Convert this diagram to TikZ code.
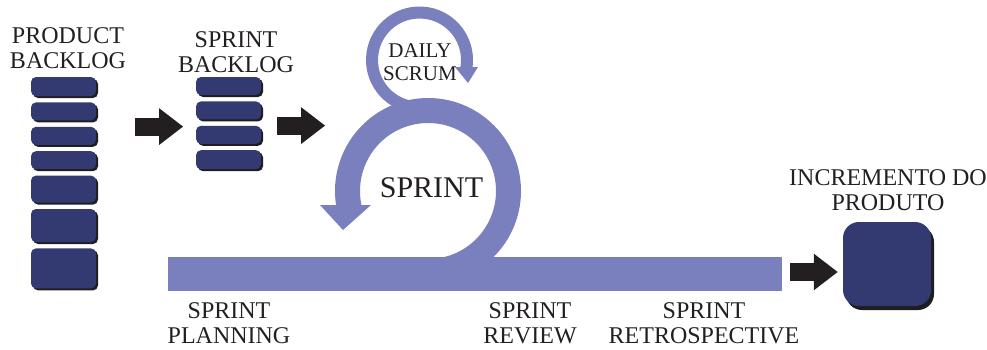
\documentclass[tikz,border=0pt]{standalone}
\usepackage{fontspec}
\setmainfont{Liberation Serif}
\usepackage{tikz}
\usetikzlibrary{arrows.meta, positioning, calc, shadows}
\definecolor{scrumnavy}{HTML}{333A72}
\definecolor{scrumlilac}{HTML}{7A80BE}
\definecolor{scrumshadow}{HTML}{1E1E1E}
\definecolor{scrumink}{HTML}{231F20}

\begin{document}
\begin{tikzpicture}[x=1pt, y=1pt, node distance=6pt,
    card/.style={fill=scrumnavy, rounded corners=5pt, minimum width=65pt, inner sep=0pt,
        drop shadow={fill=scrumshadow, opacity=1, shadow xshift=2pt, shadow yshift=-2pt}},
    lbl/.style={text=scrumink, font=\fontsize{24}{25}\selectfont, align=center, anchor=base, inner sep=0pt},
    flow/.style={line width=18pt, draw=scrumink, -{Triangle[length=24pt, width=35pt]}}]
    \useasboundingbox (0,0) rectangle (987,349);

    % Product backlog stack
    \node[card, minimum height=19pt] (pb1) at (63.5,262.5) {};
    \node[card, minimum height=18pt, below=of pb1] (pb2) {};
    \node[card, minimum height=18pt, below=of pb2] (pb3) {};
    \node[card, minimum height=18pt, below=of pb3] (pb4) {};
    \node[card, minimum height=27pt, below=of pb4] (pb5) {};
    \node[card, minimum height=33pt, below=of pb5] (pb6) {};
    \node[card, minimum height=40pt, below=of pb6] (pb7) {};
    \node[lbl] (pblabel) at (68,281) {PRODUCT\\BACKLOG};

    % Sprint backlog stack
    \node[card, minimum height=18pt] (sb1) at (228.5,263) {};
    \node[card, minimum height=18pt, below=of sb1] (sb2) {};
    \node[card, minimum height=18pt, below=of sb2] (sb3) {};
    \node[card, minimum height=19pt, below=of sb3] (sb4) {};
    \node[lbl] (sblabel) at (236,277) {SPRINT\\BACKLOG};

    % Sprint bar and the big loop
    \node[fill=scrumlilac, minimum width=614pt, minimum height=34pt, inner sep=0pt] (bar) at (475,75) {};
    \coordinate (sprintc) at (428,158);
    \draw[scrumlilac, line width=25pt] (sprintc) ++(-85:80.5) arc[start angle=-85, end angle=193, radius=80.5];
    \fill[scrumlilac] (320,144) -- (371,144) -- (343,119) -- cycle;
    \node[text=scrumink, font=\fontsize{30}{32}\selectfont, anchor=base, inner sep=0pt] (sprintlabel) at (431.5,152) {SPRINT};

    % Daily scrum loop
    \coordinate (dailyc) at (419.5,289);
    \draw[scrumlilac, line width=12pt] (dailyc) ++(262:47.5) arc[start angle=262, end angle=-11, radius=47.5];
    \fill[scrumlilac] (455,282) -- (478,282) -- (468,266) -- cycle;
    \node[lbl, font=\fontsize{21}{23}\selectfont] (dailylabel) at (420,269) {DAILY\\SCRUM};

    % Events under the bar
    \node[lbl] (planning) at (229,6) {SPRINT\\PLANNING};
    \node[lbl] (review) at (530,6) {SPRINT\\REVIEW};
    \node[lbl] (retro) at (704,6) {SPRINT\\RETROSPECTIVE};

    % Product increment
    \node[fill=scrumnavy, rounded corners=16pt, minimum width=88pt, minimum height=84pt, inner sep=0pt,
        drop shadow={fill=scrumshadow, opacity=1, shadow xshift=3pt, shadow yshift=-4pt}] (inc) at (887,85) {};
    \node[lbl] (inclabel) at (888,139) {INCREMENTO DO\\PRODUTO};

    % Flow arrows
    \draw[flow] ([xshift=39pt]pb3.north east) -- ++(48,0);
    \draw[flow] ([xshift=16pt]sb3.north east) -- ++(48,0);
    \draw[flow] ([shift={(8,2)}]bar.east) -- ([shift={(-5,-8)}]inc.west);
\end{tikzpicture}
\end{document}
